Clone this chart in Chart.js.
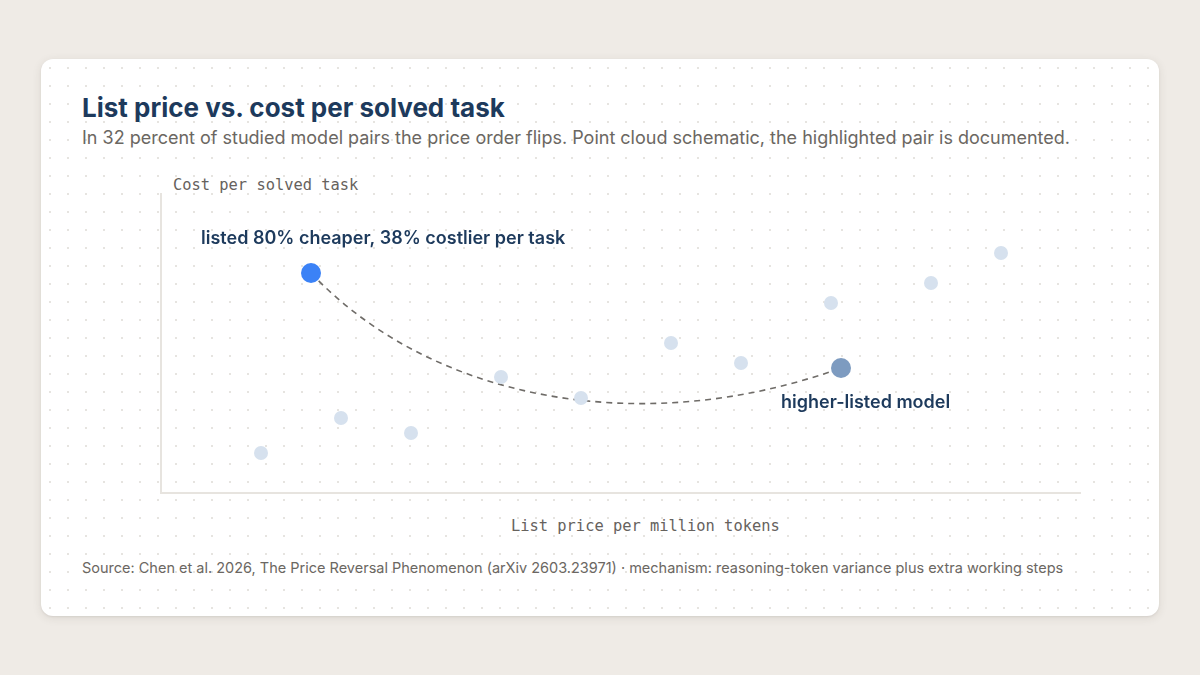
<!DOCTYPE html>
<html>
<head>
<meta charset="utf-8">
<script src="https://cdn.jsdelivr.net/npm/chart.js@4"></script>
<style>
  html, body { margin: 0; padding: 0; }
  body { width: 1200px; height: 675px; background: #efebe6; position: relative; overflow: hidden; font-family: Inter, "Noto Sans", sans-serif; }
  .card {
    position: absolute; left: 41px; top: 59px; width: 1118px; height: 557px;
    background-color: #fff;
    background-image: radial-gradient(circle, #e6e4e0 1px, transparent 1.3px);
    background-size: 18px 18px;
    border-radius: 12px;
    box-shadow: 0 2px 10px rgba(60, 50, 40, 0.10), 0 1px 2px rgba(60, 50, 40, 0.08);
  }
  .title { position: absolute; left: 82px; top: 92px; font-size: 26px; font-weight: 700; color: #1d3a5c; white-space: nowrap; }
  .subtitle { position: absolute; left: 82px; top: 127px; font-size: 18px; color: #6b6762; white-space: nowrap; }
  .mono { position: absolute; font-family: "DejaVu Sans Mono", monospace; font-size: 15.4px; color: #66625d; white-space: nowrap; }
  .source { position: absolute; left: 82px; top: 559px; font-size: 14.5px; color: #6b6762; white-space: nowrap; }
  #wrap { position: absolute; left: 0; top: 0; width: 1200px; height: 675px; }
</style>
</head>
<body>
<div class="card"></div>
<div class="title">List price vs. cost per solved task</div>
<div class="subtitle">In 32 percent of studied model pairs the price order flips. Point cloud schematic, the highlighted pair is documented.</div>
<div class="mono" style="left:173px; top:176px;">Cost per solved task</div>
<div class="mono" style="left:511px; top:517px;">List price per million tokens</div>
<div class="source">Source: Chen et al. 2026, The Price Reversal Phenomenon (arXiv 2603.23971) · mechanism: reasoning-token variance plus extra working steps</div>
<div id="wrap"><canvas id="chart"></canvas></div>
<script>
// schematic point cloud (axis units, no ticks shown)
const cloudPrice = [10, 18, 25, 34, 42, 51, 58, 67, 77, 84];
const cloudCost  = [4.0, 7.5, 6.0, 11.6, 9.5, 15.0, 13.0, 19.0, 21.0, 24.0];

// documented pair
const pairNames = ['listed 80% cheaper, 38% costlier per task', 'higher-listed model'];
const pairPrice = [15, 68];
const pairCost  = [22.0, 12.5];

const xRange = [0, 92];
const yRange = [0, 30];

const navy = '#1d3a5c';

const pairPlugin = {
  id: 'pairPlugin',
  beforeDatasetsDraw(chart) {
    const { ctx, chartArea: a } = chart;
    // axis lines
    ctx.save();
    ctx.strokeStyle = '#e7e4df';
    ctx.lineWidth = 2;
    ctx.beginPath();
    ctx.moveTo(a.left, a.top);
    ctx.lineTo(a.left, a.bottom);
    ctx.lineTo(a.right, a.bottom);
    ctx.stroke();

    // dashed connector between the pair
    const pts = chart.getDatasetMeta(1).data;
    const p0 = pts[0], p1 = pts[1];
    ctx.strokeStyle = '#6f6c68';
    ctx.lineWidth = 1.6;
    ctx.setLineDash([6, 5]);
    ctx.beginPath();
    ctx.moveTo(p0.x, p0.y);
    ctx.bezierCurveTo(p0.x + 120, p0.y + 127, p1.x - 200, p1.y + 72, p1.x, p1.y);
    ctx.stroke();
    ctx.restore();
  },
  afterDatasetsDraw(chart) {
    const { ctx } = chart;
    const pts = chart.getDatasetMeta(1).data;
    ctx.save();
    ctx.fillStyle = navy;
    ctx.font = '600 18px Inter, "Noto Sans", sans-serif';
    ctx.textBaseline = 'alphabetic';
    ctx.textAlign = 'left';
    ctx.fillText(pairNames[0], pts[0].x - 110, pts[0].y - 29);
    ctx.fillText(pairNames[1], pts[1].x - 60, pts[1].y + 40);
    ctx.restore();
  }
};

new Chart(document.getElementById('chart'), {
  type: 'scatter',
  data: {
    datasets: [
      {
        data: cloudPrice.map((x, i) => ({ x, y: cloudCost[i] })),
        backgroundColor: '#d6e1ee',
        borderWidth: 0,
        pointRadius: 7,
        pointHoverRadius: 7
      },
      {
        data: pairPrice.map((x, i) => ({ x, y: pairCost[i] })),
        backgroundColor: ['#3b82f6', '#7d9bc0'],
        borderWidth: 0,
        pointRadius: 10,
        pointHoverRadius: 10
      }
    ]
  },
  options: {
    responsive: true,
    maintainAspectRatio: false,
    animation: false,
    layout: { padding: { left: 161, right: 119, top: 193, bottom: 182 } },
    plugins: { legend: { display: false }, tooltip: { enabled: false } },
    scales: {
      x: { type: 'linear', min: xRange[0], max: xRange[1], display: false },
      y: { type: 'linear', min: yRange[0], max: yRange[1], display: false }
    }
  },
  plugins: [pairPlugin]
});
</script>
</body>
</html>
